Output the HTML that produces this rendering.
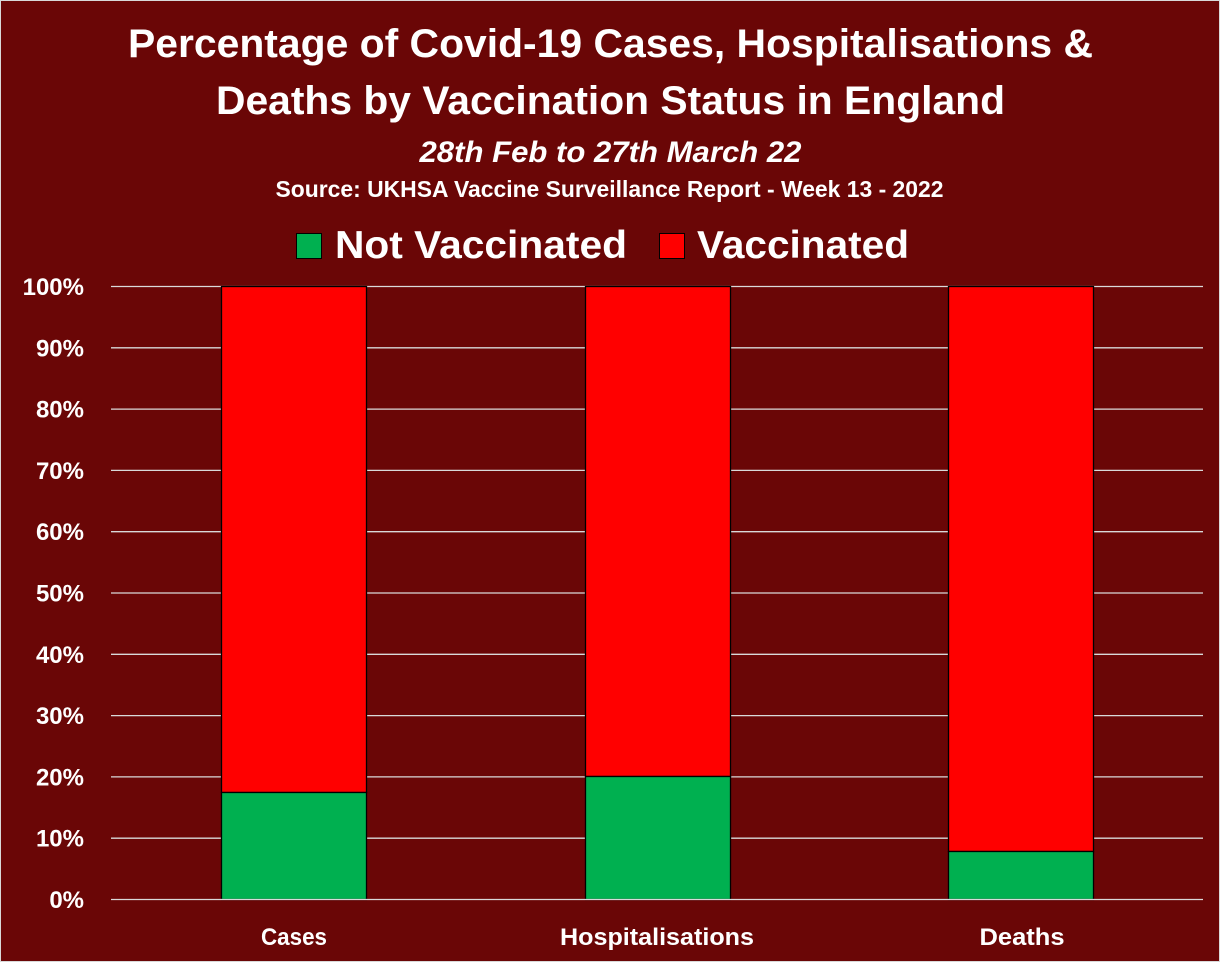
<!DOCTYPE html>
<html>
<head>
<meta charset="utf-8">
<style>
html,body{margin:0;padding:0;background:#6a0606;}
svg{display:block;}
text{font-family:"Liberation Sans",Arial,sans-serif;font-weight:bold;fill:#ffffff;}
</style>
</head>
<body>
<svg width="1220" height="962" viewBox="0 0 1220 962" xmlns="http://www.w3.org/2000/svg">
  <rect x="0" y="0" width="1220" height="962" fill="#6a0606"/>
  <rect x="0.5" y="0.5" width="1219" height="961" fill="none" stroke="#d9d9d9" stroke-width="1"/>

  <!-- Titles -->
  <text x="610.5" y="57" font-size="40" text-anchor="middle" textLength="965" lengthAdjust="spacingAndGlyphs">Percentage of Covid-19 Cases, Hospitalisations &amp;</text>
  <text x="610.5" y="114" font-size="40" text-anchor="middle" textLength="789" lengthAdjust="spacingAndGlyphs">Deaths by Vaccination Status in England</text>
  <text x="610.5" y="162" font-size="30" font-style="italic" text-anchor="middle" textLength="382" lengthAdjust="spacingAndGlyphs">28th Feb to 27th March 22</text>
  <text x="609.5" y="197" font-size="23" text-anchor="middle" textLength="668" lengthAdjust="spacingAndGlyphs">Source: UKHSA Vaccine Surveillance Report - Week 13 - 2022</text>

  <!-- Legend -->
  <rect x="296.5" y="233.5" width="25" height="25" fill="#00b050" stroke="#000" stroke-width="1"/>
  <text x="335" y="258" font-size="39" textLength="292" lengthAdjust="spacingAndGlyphs">Not Vaccinated</text>
  <rect x="659.5" y="233.5" width="25" height="25" fill="#ff0000" stroke="#000" stroke-width="1"/>
  <text x="697" y="258" font-size="39" textLength="212" lengthAdjust="spacingAndGlyphs">Vaccinated</text>

  <!-- Gridlines -->
  <g stroke="#d9d9d9" stroke-width="1.3">
    <line x1="111" y1="286.5" x2="1203" y2="286.5"/>
    <line x1="111" y1="347.8" x2="1203" y2="347.8"/>
    <line x1="111" y1="409.1" x2="1203" y2="409.1"/>
    <line x1="111" y1="470.4" x2="1203" y2="470.4"/>
    <line x1="111" y1="531.7" x2="1203" y2="531.7"/>
    <line x1="111" y1="593" x2="1203" y2="593"/>
    <line x1="111" y1="654.3" x2="1203" y2="654.3"/>
    <line x1="111" y1="715.6" x2="1203" y2="715.6"/>
    <line x1="111" y1="776.9" x2="1203" y2="776.9"/>
    <line x1="111" y1="838.2" x2="1203" y2="838.2"/>
  </g>

  <!-- Y labels -->
  <g font-size="24" text-anchor="end">
    <text x="84" y="295">100%</text>
    <text x="84" y="356.3">90%</text>
    <text x="84" y="417.6">80%</text>
    <text x="84" y="478.9">70%</text>
    <text x="84" y="540.2">60%</text>
    <text x="84" y="601.5">50%</text>
    <text x="84" y="662.8">40%</text>
    <text x="84" y="724.1">30%</text>
    <text x="84" y="785.4">20%</text>
    <text x="84" y="846.7">10%</text>
    <text x="84" y="908">0%</text>
  </g>

  <!-- Bars -->
  <g stroke="#000" stroke-width="1.3">
    <rect x="221.5" y="286.5" width="145" height="506" fill="#ff0000"/>
    <rect x="221.5" y="792.5" width="145" height="107" fill="#00b050"/>
    <rect x="585.5" y="286.5" width="145" height="490" fill="#ff0000"/>
    <rect x="585.5" y="776.5" width="145" height="123" fill="#00b050"/>
    <rect x="948.5" y="286.5" width="145" height="565" fill="#ff0000"/>
    <rect x="948.5" y="851.5" width="145" height="48" fill="#00b050"/>
  </g>
  <line x1="111" y1="899.5" x2="1203" y2="899.5" stroke="#d9d9d9" stroke-width="1.3"/>

  <!-- X labels -->
  <g font-size="24" text-anchor="middle">
    <text x="294" y="945" textLength="66" lengthAdjust="spacingAndGlyphs">Cases</text>
    <text x="657" y="945" textLength="194" lengthAdjust="spacingAndGlyphs">Hospitalisations</text>
    <text x="1022" y="945" textLength="85" lengthAdjust="spacingAndGlyphs">Deaths</text>
  </g>
</svg>
</body>
</html>
